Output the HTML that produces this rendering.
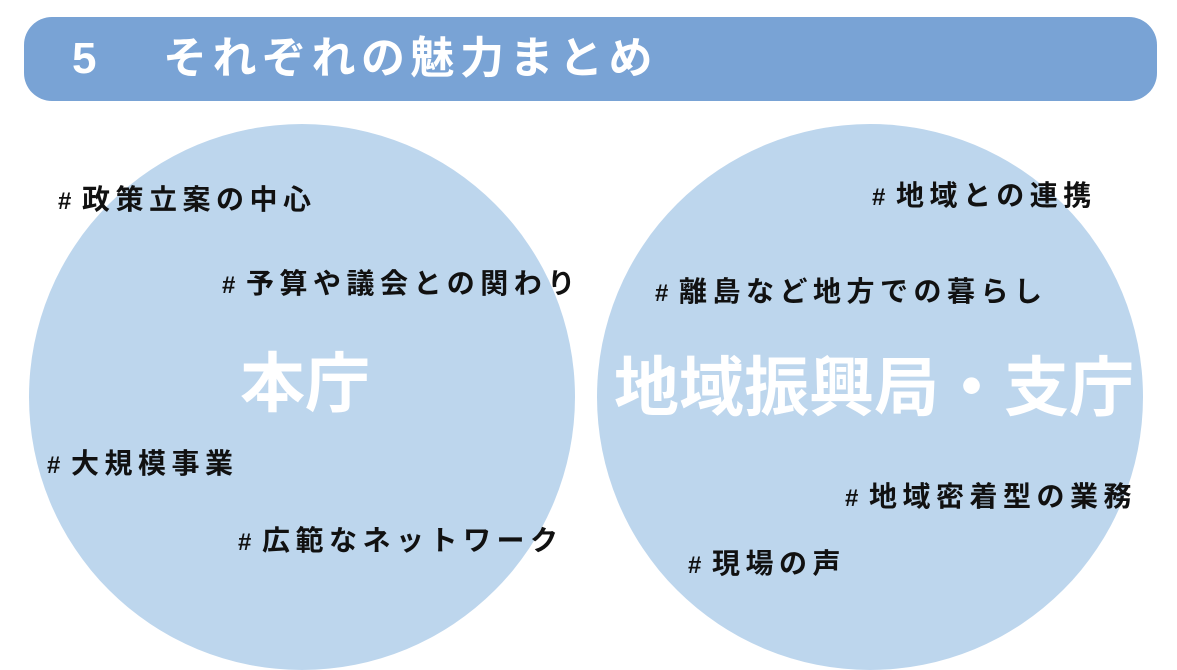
<!DOCTYPE html>
<html><head><meta charset="utf-8"><style>
body{margin:0;width:1177px;height:655px;overflow:hidden;background:#fff;position:relative;font-family:"Liberation Sans","Noto Sans CJK JP",sans-serif;}
.bar{position:absolute;left:24px;top:17px;width:1133px;height:84px;border-radius:28px;background:#79a3d5;}
.title{position:absolute;top:30px;color:#fff;font-size:44px;font-weight:bold;line-height:58px;white-space:nowrap;letter-spacing:5.5px;}
.c{position:absolute;width:546px;height:546px;border-radius:50%;background:#bdd6ed;}
.t{position:absolute;font-size:28px;font-weight:bold;color:#111;line-height:34px;white-space:nowrap;transform:translateY(-50%);letter-spacing:5.5px;}
.t b{display:inline-block;width:24px;font-size:24px;letter-spacing:0;}
.big{position:absolute;color:#fff;font-weight:bold;white-space:nowrap;transform:translate(-50%,-50%);}
</style></head><body>
<div class="bar"></div>
<div class="title" style="left:72px">5</div>
<div class="title" style="left:163px">それぞれの魅力まとめ</div>
<div class="c" style="left:29px;top:124px"></div>
<div class="c" style="left:597px;top:124px"></div>
<div class="big" style="left:305px;top:378px;font-size:65px">本庁</div>
<div class="big" style="left:874px;top:382px;font-size:65px">地域振興局・支庁</div>
<div class="t" style="left:58px;top:201px"><b>#</b>政策立案の中心</div>
<div class="t" style="left:222px;top:285px"><b>#</b>予算や議会との関わり</div>
<div class="t" style="left:47px;top:465px"><b>#</b>大規模事業</div>
<div class="t" style="left:238px;top:542px"><b>#</b>広範なネットワーク</div>
<div class="t" style="left:872px;top:197px"><b>#</b>地域との連携</div>
<div class="t" style="left:655px;top:293px"><b>#</b>離島など地方での暮らし</div>
<div class="t" style="left:845px;top:498px"><b>#</b>地域密着型の業務</div>
<div class="t" style="left:688px;top:565px"><b>#</b>現場の声</div>
</body></html>
